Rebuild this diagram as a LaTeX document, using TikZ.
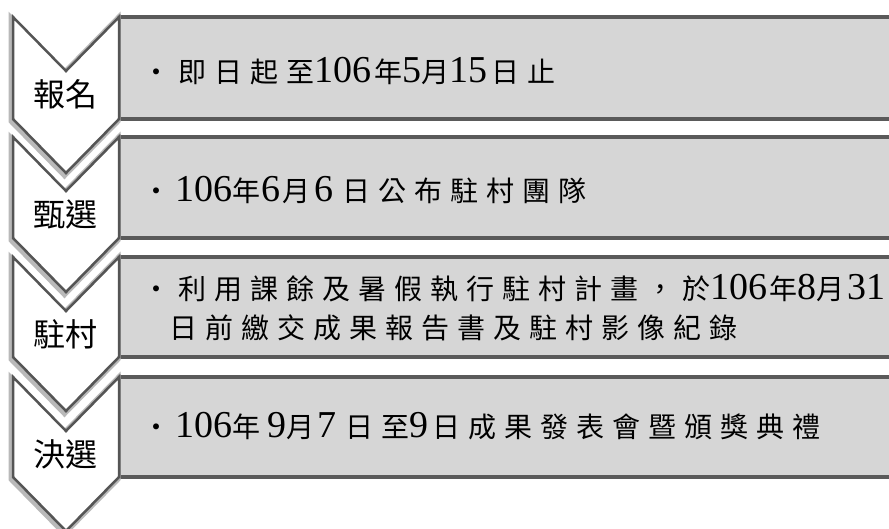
\documentclass[tikz,border=0pt]{standalone}
\usepackage{fontspec}
\setmainfont{Liberation Serif}
\newfontfamily\cjkfam{Noto Sans CJK TC}
\newdimen\trk
\def\Cfirst#1{#1\Cnext}
\def\Cnext#1{\ifx\relax#1\else\kern\trk#1\expandafter\Cnext\fi}
\def\C#1{{\cjkfam\fontsize{28}{28}\selectfont\trk=8pt\Cfirst#1\relax}}
\def\Lb#1{{\cjkfam\fontsize{32}{32}\selectfont\trk=2pt\Cfirst#1\relax}}
\definecolor{boxfill}{RGB}{214,214,214}
\definecolor{boxline}{RGB}{90,90,90}
\definecolor{chevline}{RGB}{85,85,85}
\definecolor{chevglow}{RGB}{185,185,185}
\begin{document}
\begin{tikzpicture}[x=1pt,y=-1pt,
  boxstyle/.style={draw=boxline,line width=3.5pt,fill=boxfill,anchor=north west,
    minimum width=820pt,inner sep=0pt,outer sep=0pt},
  chev/.style={draw=chevline,line width=2.5pt,fill=white,line join=miter},
  chevshadow/.style={draw=chevglow,line width=6pt,line join=miter},
  txt/.style={anchor=base west,inner sep=0pt,font=\fontsize{38}{40}\selectfont},
  lbl/.style={inner sep=0pt}]
\useasboundingbox (0,0) rectangle (889,529);
\clip (0,0) rectangle (889,529);
\fill[white] (0,0) rectangle (889,529);
\foreach \i/\t/\h/\lab in {1/17/102/報名,2/137/101/甄選,3/257/100/駐村,4/377/100/決選}{
  \node[boxstyle,minimum height=\h pt] (box\i) at (119,\t) {};
  \draw[chevshadow,shift={(-1.5,2)}] (13,\t) -- (66,\t+54) -- (119,\t) -- (119,\t+\h) -- (66,\t+\h+54) -- (13,\t+\h) -- cycle;
  \draw[chev] (13,\t) -- (66,\t+54) -- (119,\t) -- (119,\t+\h) -- (66,\t+\h+54) -- (13,\t+\h) -- cycle;
  \node[lbl] (lab\i) at (66,\t+77) {\Lb{\lab}};
}
\node[txt] (t1) at (142,83) {\C{・即日起至}106\kern3pt\C{年}5\C{月}15\kern4pt\C{日止}};
\node[txt] (t2) at (142,202) {\C{・}\kern5pt 106\C{年}\kern1pt 6\kern2pt\C{月}\kern4pt 6\kern9pt\C{日公布駐村團隊}};
\node[txt] (t3a) at (142,300) {\C{・利用課餘及暑假執行駐村計畫，於}106\kern2pt\C{年}8\C{月}\kern3pt 31};
\node[txt] (t3b) at (169,338) {\C{日前繳交成果報告書及駐村影像紀錄}};
\node[txt] (t4) at (142,437) {\C{・}\kern5pt 106\C{年}\kern7pt 9\C{月}\kern3pt 7\kern9pt\C{日至}9\kern4pt\C{日成果發表會暨頒獎典禮}};
\end{tikzpicture}
\end{document}
